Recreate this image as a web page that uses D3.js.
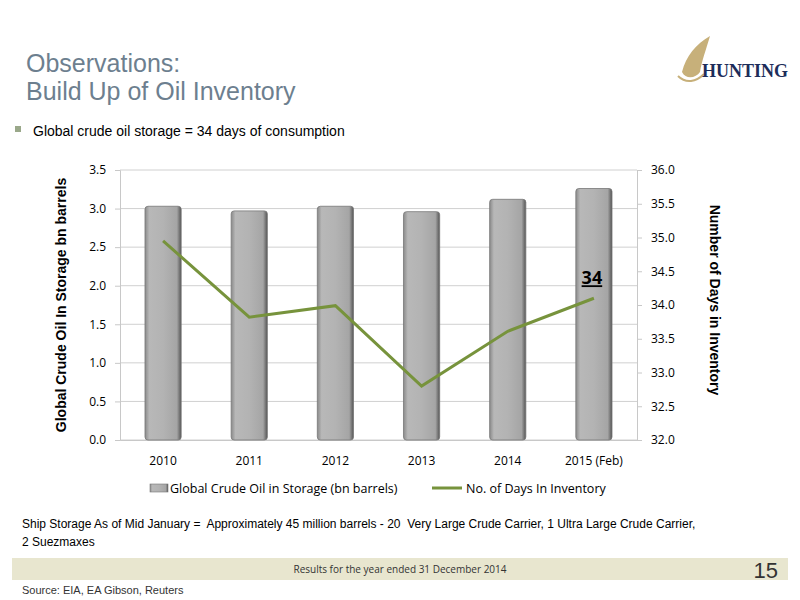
<!DOCTYPE html>
<html><head><meta charset="utf-8">
<script src="https://cdn.jsdelivr.net/npm/d3@7"></script>
<style>body{margin:0;background:#fff}svg{display:block}</style>
</head><body><svg id="c" width="800" height="600"></svg>
<script>
const categories=["2010","2011","2012","2013","2014","2015 (Feb)"];
const storage=[3.03,2.97,3.03,2.96,3.12,3.26];
const days=[34.95,33.82,33.99,32.8,33.61,34.1];
const leftTicks=[0,0.5,1,1.5,2,2.5,3,3.5];
const rightTicks=[32,32.5,33,33.5,34,34.5,35,35.5,36];

const svg=d3.select("#c");
const defs=svg.append("defs");
const g1=defs.append("linearGradient").attr("id","bg");
[[0,"#8a8a8a"],[0.12,"#b8b8b8"],[0.5,"#b3b3b3"],[0.88,"#a5a5a5"],[1,"#555"]].forEach(s=>g1.append("stop").attr("offset",s[0]).attr("stop-color",s[1]));

svg.append("text").attr("x",26).attr("y",72).attr("font-family","Liberation Sans, Arial").attr("font-size",25).attr("fill","#6d7f8f").text("Observations:");
svg.append("text").attr("x",26).attr("y",100).attr("font-family","Liberation Sans, Arial").attr("font-size",25).attr("fill","#6d7f8f").text("Build Up of Oil Inventory");
svg.append("path").attr("d","M682,72 C686,56 696,44 710,36 C706,50 702,60 700,72 C696,78 686,80 682,72Z").attr("fill","#c7b07a");
svg.append("path").attr("d","M678,76 C686,84 696,82 704,74").attr("stroke","#c7b07a").attr("fill","none").attr("stroke-width",2);
svg.append("text").attr("x",702).attr("y",77).attr("font-family","Liberation Serif, serif").attr("font-weight","bold").attr("font-size",18).attr("fill","#1d2d5a").text("HUNTING");

svg.append("rect").attr("x",15).attr("y",126).attr("width",6).attr("height",6).attr("fill","#9aa88a");
svg.append("text").attr("x",33).attr("y",136).attr("font-family","Liberation Sans, Arial").attr("font-size",14).attr("fill","#000").text("Global crude oil storage = 34 days of consumption");

const L=120,R=637,T=170,B=440;
const x=d3.scaleBand().domain(categories).range([L,R]).paddingInner(0.58).paddingOuter(0.29);
const yl=d3.scaleLinear().domain([0,3.5]).range([B,T]);
const yr=d3.scaleLinear().domain([32,36]).range([B,T]);

svg.append("g").selectAll("line").data(leftTicks).join("line").attr("x1",L).attr("x2",R).attr("y1",d=>yl(d)).attr("y2",d=>yl(d)).attr("stroke","#d0d0d0");
const ax=svg.append("g").attr("transform",`translate(${L},0)`).call(d3.axisLeft(yl).tickValues(leftTicks).tickFormat(d3.format(".1f")).tickSize(5));
const ar=svg.append("g").attr("transform",`translate(${R},0)`).call(d3.axisRight(yr).tickValues(rightTicks).tickFormat(d3.format(".1f")).tickSize(5));
const ab=svg.append("g").attr("transform",`translate(0,${B})`).call(d3.axisBottom(x).tickSize(0));
[ax,ar,ab].forEach(a=>{a.selectAll("path,line").attr("stroke","#c8c8c8");a.selectAll("text").attr("font-family","Open Sans, DejaVu Sans").attr("font-size",12).attr("fill","#000");});
ab.selectAll("text").attr("dy","1.8em");
ar.selectAll("text").attr("dx","6");
ax.selectAll("text").attr("dx","-6");

svg.append("g").selectAll("rect").data(storage).join("rect")
 .attr("x",(d,i)=>x(categories[i])).attr("width",x.bandwidth()).attr("y",d=>yl(d)).attr("height",d=>B-yl(d))
 .attr("rx",3).attr("fill","url(#bg)").attr("stroke","#777").attr("stroke-width",0.8);

const line=d3.line().x((d,i)=>x(categories[i])+x.bandwidth()/2).y(d=>yr(d));
svg.append("path").datum(days).attr("d",line).attr("fill","none").attr("stroke","#77933c").attr("stroke-width",3);
svg.append("text").attr("x",x(categories[5])+x.bandwidth()/2-2).attr("y",yr(days[5])-14).attr("text-anchor","middle").attr("font-family","Open Sans, DejaVu Sans").attr("font-weight","bold").attr("font-size",18).attr("text-decoration","underline").text("34");

svg.append("text").attr("transform","translate(66,305) rotate(-90)").attr("text-anchor","middle").attr("font-family","Liberation Sans, Arial").attr("font-weight","bold").attr("font-size",14).text("Global Crude Oil In Storage bn barrels");
svg.append("text").attr("transform","translate(710,300) rotate(90)").attr("text-anchor","middle").attr("font-family","Liberation Sans, Arial").attr("font-weight","bold").attr("font-size",14).text("Number of Days in Inventory");

svg.append("rect").attr("x",150).attr("y",484).attr("width",18).attr("height",8).attr("fill","url(#bg)").attr("stroke","#777").attr("stroke-width",0.6);
svg.append("text").attr("x",170).attr("y",493).attr("font-family","Open Sans, DejaVu Sans").attr("font-size",12.5).text("Global Crude Oil in Storage (bn barrels)");
svg.append("line").attr("x1",432).attr("x2",462).attr("y1",488).attr("y2",488).attr("stroke","#77933c").attr("stroke-width",3);
svg.append("text").attr("x",466).attr("y",493).attr("font-family","Open Sans, DejaVu Sans").attr("font-size",12.5).text("No. of Days In Inventory");

svg.append("text").attr("x",22).attr("y",528).attr("font-family","Liberation Sans, Arial").attr("font-size",12).attr("xml:space","preserve").text("Ship Storage As of Mid January =  Approximately 45 million barrels - 20  Very Large Crude Carrier, 1 Ultra Large Crude Carrier,");
svg.append("text").attr("x",22).attr("y",546).attr("font-family","Liberation Sans, Arial").attr("font-size",12).text("2 Suezmaxes");

svg.append("rect").attr("x",12).attr("y",558).attr("width",776).attr("height",22).attr("fill","#e8e6cf");
svg.append("text").attr("x",400).attr("y",573).attr("text-anchor","middle").attr("font-family","Open Sans, DejaVu Sans").attr("font-size",10).attr("fill","#333").text("Results for the year ended 31 December 2014");
svg.append("text").attr("x",778).attr("y",578).attr("text-anchor","end").attr("font-family","Liberation Sans Narrow, Liberation Sans").attr("font-size",22).attr("fill","#333").text("15");
svg.append("text").attr("x",22).attr("y",594).attr("font-family","Liberation Sans, Arial").attr("font-size",11).attr("fill","#333").text("Source:  EIA, EA Gibson, Reuters");
</script></body></html>
